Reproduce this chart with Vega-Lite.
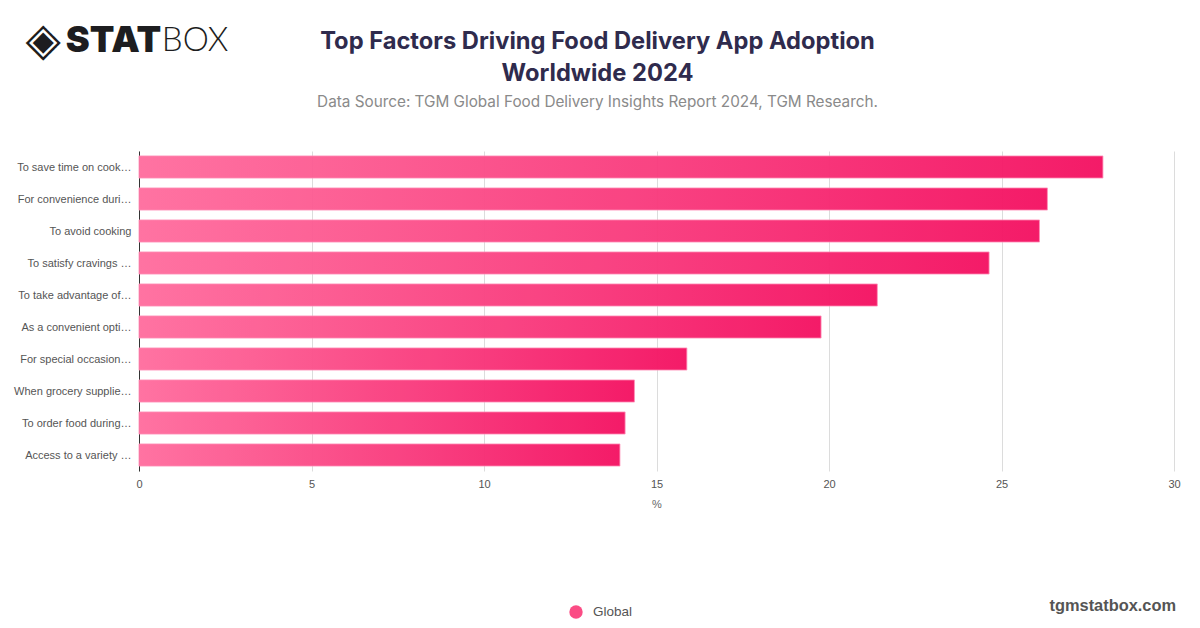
{
  "$schema": "https://vega.github.io/schema/vega-lite/v6.json",
  "width": 1035,
  "height": 320,
  "autosize": {"type": "none"},
  "padding": {"left": 139, "top": 151, "right": 26, "bottom": 157},
  "background": "white",
  "title": {
    "text": ["Top Factors Driving Food Delivery App Adoption", "Worldwide 2024"],
    "subtitle": "Data Source: TGM Global Food Delivery Insights Report 2024, TGM Research.",
    "anchor": "middle",
    "dx": -59,
    "offset": -92,
    "font": "Inter",
    "fontSize": 23.7,
    "fontWeight": 700,
    "lineHeight": 32,
    "color": "#2f2b4d",
    "subtitleFont": "Inter",
    "subtitleFontSize": 15.3,
    "subtitleFontWeight": 400,
    "subtitleColor": "#8a8a8a",
    "subtitlePadding": 9
  },
  "datasets": {
    "factors": [
      {"factor": "To save time on cook…", "share": 27.94, "series": "Global"},
      {"factor": "For convenience duri…", "share": 26.33, "series": "Global"},
      {"factor": "To avoid cooking", "share": 26.1, "series": "Global"},
      {"factor": "To satisfy cravings …", "share": 24.64, "series": "Global"},
      {"factor": "To take advantage of…", "share": 21.4, "series": "Global"},
      {"factor": "As a convenient opti…", "share": 19.77, "series": "Global"},
      {"factor": "For special occasion…", "share": 15.88, "series": "Global"},
      {"factor": "When grocery supplie…", "share": 14.36, "series": "Global"},
      {"factor": "To order food during…", "share": 14.09, "series": "Global"},
      {"factor": "Access to a variety …", "share": 13.94, "series": "Global"}
    ]
  },
  "encoding": {
    "x": {
      "field": "share",
      "type": "quantitative",
      "title": "%",
      "scale": {"domain": [0, 30], "nice": false},
      "axis": {
        "values": [0, 5, 10, 15, 20, 25, 30],
        "grid": true,
        "gridColor": "#dcdcdc",
        "domain": false,
        "ticks": false,
        "labelFlush": false,
        "labelFont": "Liberation Sans",
        "labelFontSize": 11,
        "labelColor": "#555555",
        "labelPadding": 7,
        "titleFont": "Liberation Sans",
        "titleFontSize": 11,
        "titleFontWeight": 400,
        "titleColor": "#666666",
        "titlePadding": 9
      }
    },
    "y": {
      "field": "factor",
      "type": "nominal",
      "sort": null,
      "title": null,
      "scale": {
        "domain": ["To save time on cook…", "For convenience duri…", "To avoid cooking", "To satisfy cravings …", "To take advantage of…", "As a convenient opti…", "For special occasion…", "When grocery supplie…", "To order food during…", "Access to a variety …"],
        "paddingInner": 0.31,
        "paddingOuter": 0.155
      },
      "axis": {
        "domainColor": "#333333",
        "domainWidth": 1,
        "ticks": false,
        "grid": false,
        "labelFont": "Liberation Sans",
        "labelFontSize": 11,
        "labelColor": "#555555",
        "labelPadding": 8,
        "labelOffset": 1,
        "labelLimit": 140
      }
    }
  },
  "layer": [
    {
      "data": {"name": "factors"},
      "mark": {
        "type": "bar",
        "stroke": "#ff8ab5",
        "strokeWidth": 0.8,
        "opacity": 0.97,
        "color": {
          "gradient": "linear",
          "x1": 0,
          "y1": 0,
          "x2": 1,
          "y2": 0,
          "stops": [
            {"offset": 0, "color": "#ff6f9f"},
            {"offset": 1, "color": "#f41464"}
          ]
        }
      }
    },
    {
      "data": {"name": "factors"},
      "mark": {"type": "point", "filled": true, "opacity": 0},
      "encoding": {
        "color": {
          "field": "series",
          "type": "nominal",
          "title": null,
          "scale": {"domain": ["Global"], "range": ["#fb4c85"]},
          "legend": {
            "orient": "none",
            "legendX": 430,
            "legendY": 454,
            "symbolType": "circle",
            "symbolSize": 180,
            "symbolStrokeWidth": 0,
            "symbolOpacity": 1,
            "labelFont": "Liberation Sans",
            "labelFontSize": 13.5,
            "labelColor": "#555555",
            "labelOffset": 10
          }
        }
      }
    },
    {
      "data": {"values": [{"note": "◈", "share": -2.78, "factor": "To save time on cook…"}]},
      "mark": {"type": "text", "font": "DejaVu Sans", "fontSize": 46, "color": "#1d1d20", "align": "center", "baseline": "middle", "dy": -126},
      "encoding": {"text": {"field": "note"}}
    },
    {
      "data": {"values": [{"note": "STAT", "share": -2.12, "factor": "To save time on cook…"}]},
      "mark": {"type": "text", "font": "Inter", "fontSize": 36, "fontWeight": 900, "color": "#1d1d20", "align": "left", "baseline": "middle", "dy": -126},
      "encoding": {"text": {"field": "note"}}
    },
    {
      "data": {"values": [{"note": "BOX", "share": 0.66, "factor": "To save time on cook…"}]},
      "mark": {"type": "text", "font": "Lato", "fontSize": 33, "fontWeight": 300, "color": "#1d1d20", "align": "left", "baseline": "middle", "dy": -126},
      "encoding": {"text": {"field": "note"}}
    },
    {
      "data": {"values": [{"note": "tgmstatbox.com", "share": 30.06, "factor": "Access to a variety …"}]},
      "mark": {"type": "text", "font": "Liberation Sans", "fontSize": 16.4, "fontWeight": 700, "color": "#555555", "align": "right", "baseline": "middle", "dy": 151},
      "encoding": {"text": {"field": "note"}}
    }
  ],
  "config": {"view": {"stroke": null}}
}
